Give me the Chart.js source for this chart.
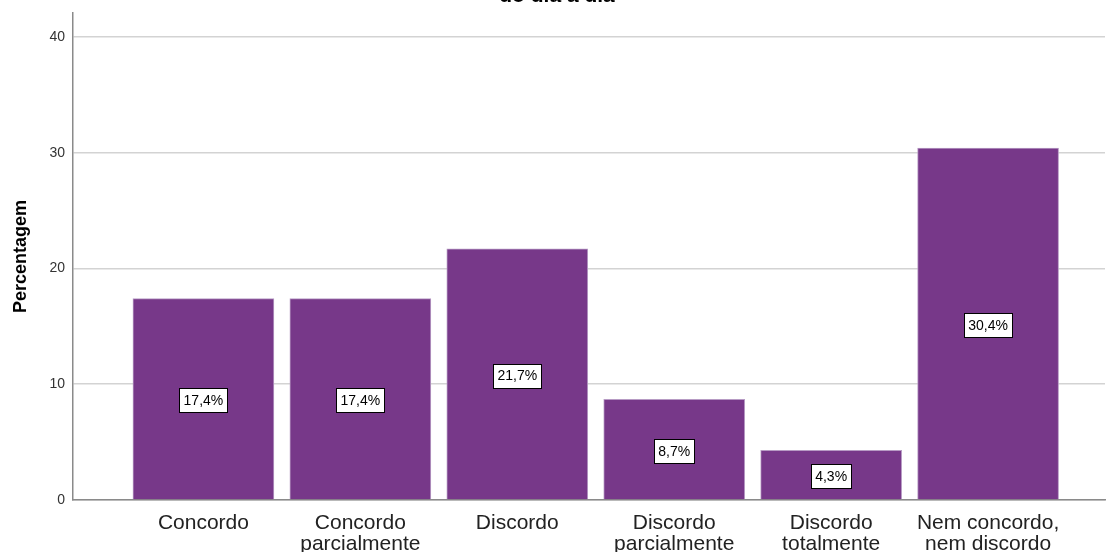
<!DOCTYPE html>
<html>
<head>
<meta charset="utf-8">
<script src="https://cdn.jsdelivr.net/npm/chart.js@4.4.1/dist/chart.umd.min.js"></script>
<style>
	html, body { margin: 0; padding: 0; background: #fff; }
	#wrap { width: 1107px; height: 552px; }
</style>
</head>
<body>
<div id="wrap"><canvas id="mycanvas" width="1107" height="552"></canvas></div>
<script>
// respostas (percentagem)
var categorias = [
	["Concordo"],
	["Concordo", "parcialmente"],
	["Discordo"],
	["Discordo", "parcialmente"],
	["Discordo", "totalmente"],
	["Nem concordo,", "nem discordo"]
];
var percentagem = [17.4, 17.4, 21.7, 8.7, 4.3, 30.4];
var yTicks = [0, 10, 20, 30, 40];
var titulo = "do dia a dia";

var fonte = "'Liberation Sans', Arial, sans-serif";

var pontos = [];
for (var i in percentagem) {
	pontos.push({ x: Number(i), y: percentagem[i] });
}

// caixinhas com o valor no meio de cada barra
var rotulos = {
	id: 'rotulos',
	afterDatasetsDraw: function(chart) {
		var ctx = chart.ctx;
		var meta = chart.getDatasetMeta(0);
		ctx.save();
		ctx.font = '14px ' + fonte;
		ctx.textAlign = 'center';
		ctx.textBaseline = 'middle';
		meta.data.forEach(function(bar, i) {
			var txt = percentagem[i].toFixed(1).replace('.', ',') + '%';
			var w = Math.round(ctx.measureText(txt).width + 8);
			var h = 24;
			var cx = bar.x;
			var cy = (bar.y + bar.base) / 2 + 1.5;
			var bx = Math.round(cx - w / 2) + 0.5;
			var by = Math.round(cy - h / 2) + 0.5;
			ctx.fillStyle = '#ffffff';
			ctx.fillRect(bx, by, w, h);
			ctx.strokeStyle = '#000000';
			ctx.lineWidth = 1;
			ctx.strokeRect(bx, by, w, h);
			ctx.fillStyle = '#000000';
			ctx.fillText(txt, cx, cy + 1);
		});
		ctx.restore();
	}
};

// titulo, so aparece a ultima linha no topo
var tituloTopo = {
	id: 'tituloTopo',
	afterDraw: function(chart) {
		var ctx = chart.ctx;
		ctx.save();
		ctx.font = 'bold 21px ' + fonte;
		ctx.textAlign = 'center';
		ctx.textBaseline = 'alphabetic';
		ctx.fillStyle = '#000000';
		ctx.fillText(titulo, 557, 2);
		ctx.restore();
	}
};

var chartdata = {
	datasets: [
		{
			label: 'Percentagem',
			data: pontos,
			backgroundColor: '#773889',
			borderColor: '#b79bc4',
			borderWidth: 1,
			barThickness: 141
		}
	]
};

var ctx = document.getElementById('mycanvas');

var barGraph = new Chart(ctx, {
	type: 'bar',
	data: chartdata,
	plugins: [rotulos, tituloTopo],
	options: {
		responsive: false,
		animation: false,
		layout: { padding: { top: 13, right: 2, left: 0, bottom: 0 } },
		plugins: {
			legend: { display: false },
			tooltip: { enabled: false }
		},
		scales: {
			x: {
				type: 'linear',
				offset: false,
				min: -0.831,
				max: 5.745,
				afterFit: function(scale) { scale.height = 52; },
				afterBuildTicks: function(scale) {
					scale.ticks = categorias.map(function(c, i) { return { value: i }; });
				},
				grid: { display: false, drawTicks: false, offset: false },
				border: { display: true, color: '#8a8a8a', width: 1.5 },
				ticks: {
					autoSkip: false,
					maxRotation: 0,
					padding: 13,
					color: '#222222',
					font: { family: fonte, size: 21, lineHeight: 1.0 },
					callback: function(value) { return categorias[value]; }
				}
			},
			y: {
				min: 0,
				max: 42.07,
				afterFit: function(scale) {
					scale.width = 73;
					scale.paddingTop = 0;
					scale.paddingBottom = 0;
				},
				afterBuildTicks: function(scale) {
					scale.ticks = yTicks.map(function(v) { return { value: v }; });
				},
				grid: { color: '#d3d3d3', lineWidth: 1.5, drawTicks: false },
				border: { display: true, color: '#8a8a8a', width: 1.5 },
				ticks: {
					padding: 8,
					color: '#333333',
					font: { family: fonte, size: 14 }
				},
				title: {
					display: true,
					text: 'Percentagem',
					color: '#000000',
					padding: { top: 10, bottom: 0 },
					font: { family: fonte, size: 18, weight: 'bold' }
				}
			}
		}
	}
});
</script>
</body>
</html>
